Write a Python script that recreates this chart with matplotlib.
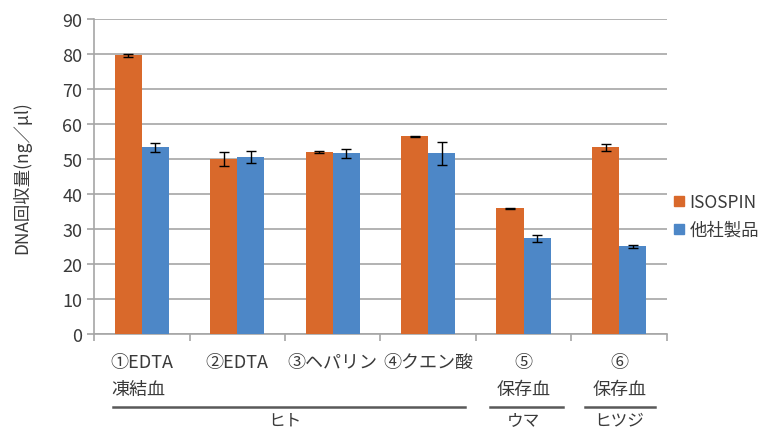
import matplotlib.pyplot as plt
from matplotlib.lines import Line2D
import numpy as np

plt.rcParams['font.family'] = ['Noto Sans CJK JP', 'DejaVu Sans']

categories = ['①EDTA', '②EDTA', '③ヘパリン', '④クエン酸', '⑤', '⑥']
isospin = [79.6, 50.0, 51.9, 56.5, 35.9, 53.3]
isospin_err = [0.4, 2.1, 0.3, 0.2, 0.2, 1.1]
other = [53.3, 50.5, 51.6, 51.6, 27.3, 25.1]
other_err = [1.2, 1.7, 1.2, 3.4, 0.9, 0.4]
series_names = ['ISOSPIN', '他社製品']

c_orange = '#D9692B'
c_blue = '#4D87C7'
txt = '#3a3a3a'
grid_c = '#a6a6a6'

fig = plt.figure(figsize=(7.71, 4.31), dpi=100)
ax = fig.add_axes([0.122, 0.2227, 0.743, 0.7309])

x = np.arange(len(categories))
w = 0.285
ax.bar(x - w/2, isospin, w, color=c_orange, zorder=3)
ax.bar(x + w/2, other, w, color=c_blue, zorder=3)
ax.errorbar(x - w/2, isospin, yerr=isospin_err, fmt='none', ecolor='black',
            elinewidth=1, capsize=3.5, capthick=1, zorder=4)
ax.errorbar(x + w/2, other, yerr=other_err, fmt='none', ecolor='black',
            elinewidth=1, capsize=3.5, capthick=1, zorder=4)

ax.set_xlim(-0.5, len(categories) - 0.5)
ax.set_ylim(0, 90)
ax.set_yticks(range(0, 91, 10))
ax.yaxis.grid(True, color=grid_c, linewidth=1.2, zorder=0)
ax.set_axisbelow(True)
for s in ['top', 'right']:
    ax.spines[s].set_visible(False)
for s in ['left', 'bottom']:
    ax.spines[s].set_color(grid_c)
    ax.spines[s].set_linewidth(1.2)
ax.tick_params(axis='y', colors=grid_c, labelcolor=txt, labelsize=13, length=5, width=1.2)
ax.set_xticks(np.arange(-0.5, len(categories), 1))
ax.set_xticklabels([])
ax.tick_params(axis='x', colors=grid_c, length=5, width=1.2)
ax.set_ylabel('DNA回収量(ng／μl)', fontsize=12.5, color=txt, labelpad=22)

# category labels below the axis
tr = ax.get_xaxis_transform()
for i, c in enumerate(categories):
    ax.text(i, -0.09, c, transform=tr, ha='center', va='center', fontsize=13, color=txt)
ax.text(-0.32, -0.175, '凍結血', transform=tr, ha='left', va='center', fontsize=13, color=txt)
ax.text(4, -0.175, '保存血', transform=tr, ha='center', va='center', fontsize=13, color=txt)
ax.text(5, -0.175, '保存血', transform=tr, ha='center', va='center', fontsize=13, color=txt)

for x0, x1 in [(-0.30, 3.385), (3.647, 4.41), (4.64, 5.375)]:
    ax.plot([x0, x1], [-0.232, -0.232], transform=tr, color='#595959',
            linewidth=1.8, clip_on=False)
ax.text(1.5, -0.272, 'ヒト', transform=tr, ha='center', va='center', fontsize=12, color=txt)
ax.text(4.0, -0.272, 'ウマ', transform=tr, ha='center', va='center', fontsize=12, color=txt)
ax.text(5.0, -0.272, 'ヒツジ', transform=tr, ha='center', va='center', fontsize=12, color=txt)

handles = [Line2D([], [], marker='s', linestyle='none', markersize=7, color=c_orange),
           Line2D([], [], marker='s', linestyle='none', markersize=7, color=c_blue)]
leg = fig.legend(handles, series_names, loc='center left', bbox_to_anchor=(0.872, 0.496),
                 frameon=False, fontsize=12.5, handletextpad=0.2, labelspacing=0.55,
                 handlelength=0.8, borderpad=0, borderaxespad=0)
for t in leg.get_texts():
    t.set_color(txt)

fig.savefig('out.png', dpi=100)
